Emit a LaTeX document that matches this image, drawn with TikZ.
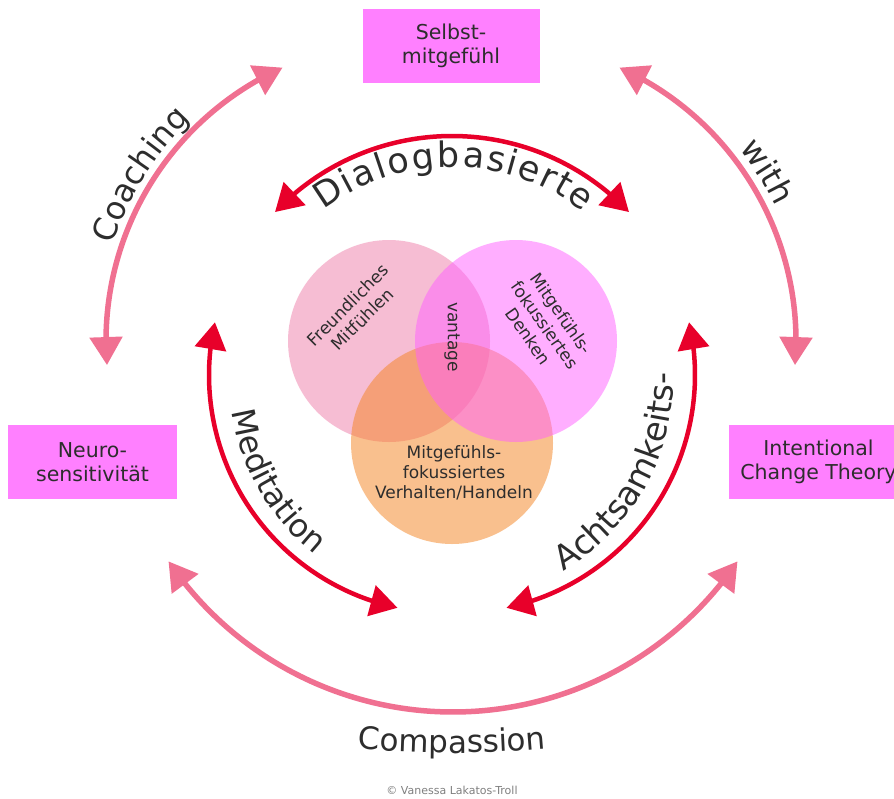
\documentclass[tikz,border=0pt]{standalone}
\usepackage{fontspec}
\setmainfont{DejaVu Sans}
\newfontfamily\arcfam{DejaVu Sans}
\newcommand\biglabel{\arcfam\fontsize{32}{38}\selectfont}
\newcommand\dialabel{\arcfam\fontsize{35}{42}\selectfont}
\newcommand\achtlabel{\arcfam\fontsize{33.5}{40}\selectfont}
\newcommand\complabel{\arcfam\fontsize{31}{37}\selectfont}
\usetikzlibrary{arrows.meta,bending,decorations.text}

\definecolor{arcpink}{RGB}{240,112,145}
\definecolor{arcred}{RGB}{232,0,42}
\definecolor{boxpink}{RGB}{255,128,255}
\definecolor{inkgray}{RGB}{45,45,45}
\definecolor{vennrose}{RGB}{239,125,169}
\definecolor{vennorange}{RGB}{245,130,30}
\definecolor{vennviolet}{RGB}{255,95,255}

\tikzset{every picture/.style={line width=0.75pt}}
\tikzset{
  outerarc/.style={draw=arcpink, line width=5.5pt, {Triangle[length=28pt,width=32pt]}-{Triangle[length=28pt,width=32pt]}},
  innerarc/.style={draw=arcred, line width=4.5pt, {Triangle[length=27pt,width=31pt]}-{Triangle[length=27pt,width=31pt]}},
  boxnode/.style={fill=boxpink, minimum height=74pt, inner sep=0pt, align=center, text=inkgray, font=\fontsize{20.5}{24}\selectfont},
  vennlabel/.style={inner sep=0.75pt, align=center, text=inkgray, font=\fontsize{17}{20}\selectfont},
  arclabel/.style={decorate, decoration={text along path, text align=center, text color=inkgray, text={#1}}}
}

\begin{document}
\begin{tikzpicture}[x=1pt,y=-1pt]
\useasboundingbox (0,0) rectangle (894,798);
\fill[white] (0,0) rectangle (894,798);

%centres of the rings
\coordinate (cin) at (452,380);
\coordinate (cmed) at (447,375);
\coordinate (cacht) at (457,375);
\coordinate (ccoach) at (406,341);
\coordinate (cwith) at (496,341);
\coordinate (ccomp) at (453,368);
\coordinate (ctext) at (452,-297);

%Shape: Rectangle
\draw (451,46) node[boxnode, minimum width=177pt] (selbst) {Selbst-\\mitgefühl};
%Shape: Rectangle
\draw (92.5,462) node[boxnode, minimum width=169pt] (neuro) {Neuro-\\sensitivität};
%Shape: Rectangle
\draw (818.5,462) node[boxnode, minimum width=179pt] (ict) {Intentional\\Change Theory};

%Curve Lines (outer ring)
\draw[outerarc] ([shift={(245.7:300)}]ccoach) arc[start angle=245.7, end angle=175.4, radius=300];
\draw[outerarc] ([shift={(-65.7:300)}]cwith) arc[start angle=-65.7, end angle=4.6, radius=300];
\draw[outerarc] ([shift={(145.8:344)}]ccomp) arc[start angle=145.8, end angle=34.2, radius=344];

%Shape: Circle
\fill[vennrose, fill opacity=0.5] (389,341) circle[radius=101];
\fill[vennorange, fill opacity=0.5] (452,443) circle[radius=101];
\fill[vennviolet, fill opacity=0.5] (516,341) circle[radius=101];

%Curve Lines (inner ring)
\draw[innerarc] ([shift={(-136.5:244)}]cin) arc[start angle=-136.5, end angle=-43.5, radius=244];
\draw[innerarc] ([shift={(192.8:238)}]cmed) arc[start angle=192.8, end angle=102, radius=238];
\draw[innerarc] ([shift={(-12.8:238)}]cacht) arc[start angle=-12.8, end angle=78, radius=238];

% Text along the rings
\path[arclabel={|\biglabel|Coaching}] ([shift={(172:309)}]ccoach) arc[start angle=172, end angle=252, radius=309];
\path[arclabel={|\biglabel|with}] ([shift={(-72:310)}]cwith) arc[start angle=-72, end angle=8, radius=310];
\path[decorate, decoration={text effects along path, text={Dialogbasierte},
    text effects/.cd, text along path, fit text to path,
    every character/.style={font=\dialabel, text=inkgray}}]
  ([shift={(-127:213)}]cin) arc[start angle=-127, end angle=-52, radius=213];
\path[arclabel={|\biglabel|Meditation}] ([shift={(200:222)}]cin) arc[start angle=200, end angle=100, radius=222];
\path[arclabel={|\achtlabel|Achtsamkeits-}] ([shift={(79:221)}]cin) arc[start angle=79, end angle=-21, radius=221];
\path[arclabel={|\complabel|Compassion}] ([shift={(100:1050)}]ctext) arc[start angle=100, end angle=80, radius=1050];

% Text Node
\draw (355,312) node[vennlabel, rotate=45] (freund) {Freundliches\\Mitfühlen};
% Text Node
\draw (452,337) node[vennlabel, rotate=-90] (vant) {vantage};
% Text Node
\draw (545,325) node[vennlabel, rotate=-55] (denken) {Mitgefühls-\\fokussiertes\\Denken};
% Text Node
\draw (454,473) node[vennlabel] (handeln) {Mitgefühls-\\fokussiertes\\Verhalten/Handeln};
% Text Node
\draw (452,790) node[inner sep=0.75pt, text=gray, font=\fontsize{11}{13}\selectfont] (copy) {© Vanessa Lakatos-Troll};

\end{tikzpicture}
\end{document}
